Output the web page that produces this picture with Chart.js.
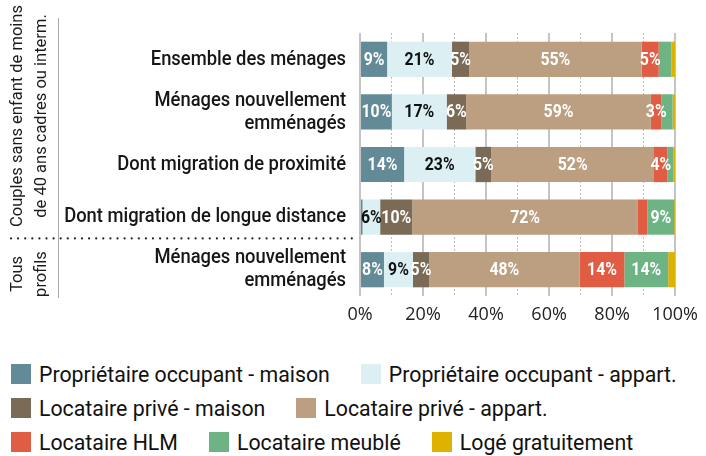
<!DOCTYPE html>
<html lang="fr">
<head>
<meta charset="utf-8">
<script src="https://cdn.jsdelivr.net/npm/chart.js@4.4.1/dist/chart.umd.min.js"></script>
<style>
  html, body { margin: 0; padding: 0; background: #fff; }
  #wrap { position: relative; width: 706px; height: 456px; overflow: hidden; }
  #chart { position: absolute; left: 0; top: 0; }
  #legend { position: absolute; left: 11px; top: 357px; font-family: Roboto, sans-serif; font-size: 21.3px; color: #111; }
  .row { display: flex; align-items: center; height: 34px; white-space: nowrap; }
  .item { display: flex; align-items: center; margin-right: 31px; }
  .sw { width: 20px; height: 20px; margin-right: 8px; flex: none; }
</style>
</head>
<body>
<div id="wrap">
  <canvas id="chart" width="706" height="340"></canvas>
  <div id="legend"></div>
</div>
<script>
// --- Données ---
const categories = [
    'Ensemble des ménages',
    ['Ménages nouvellement', 'emménagés'],
    'Dont migration de proximité',
    'Dont migration de longue distance',
    ['Ménages nouvellement', 'emménagés']
];

const seriesNames = [
    'Propriétaire occupant - maison',
    'Propriétaire occupant - appart.',
    'Locataire privé - maison',
    'Locataire privé - appart.',
    'Locataire HLM',
    'Locataire meublé',
    'Logé gratuitement'
];

const propMaison     = [8.6, 10.1, 14.0, 0.8, 7.6];
const propAppart     = [20.6, 17.4, 22.6, 5.6, 9.2];
const locPriveMaison = [5.4, 6.2, 5.1, 10.2, 5.1];
const locPriveAppart = [54.8, 58.6, 51.6, 71.6, 47.8];
const locHLM         = [5.4, 3.4, 4.3, 3.0, 14.2];
const locMeuble      = [4.0, 3.5, 1.9, 8.5, 13.9];
const logeGratuit    = [1.2, 0.8, 0.5, 0.3, 2.2];

// segments sans étiquette (index de série -> lignes)
const hiddenLabels = { 0: [3], 4: [3], 5: [0, 1, 2], 6: [0, 1, 2, 3, 4] };

const xTicks = [0, 20, 40, 60, 80, 100];
const groupLabels = [
    { lines: ['Couples sans enfant de moins', 'de 40 ans cadres ou interm.'], y: 116 },
    { lines: ['Tous', 'profils'], y: 274 }
];
const legendRows = [[0, 1], [2, 3], [4, 5, 6]];

const colors = ['#638b97', '#dcf0f3', '#7a6a56', '#bc9f80', '#e05d44', '#6db384', '#e0b200'];
const allSeries = [propMaison, propAppart, locPriveMaison, locPriveAppart, locHLM, locMeuble, logeGratuit];

// texte « condensé » : police Roboto resserrée horizontalement
function narrowText(ctx, text, x, y, squeeze) {
    ctx.save();
    ctx.translate(x, y);
    ctx.scale(squeeze, 1);
    ctx.fillText(text, 0, 0);
    ctx.restore();
}

// --- Plugin : étiquettes dans les barres ---
const barLabels = {
    id: 'barLabels',
    afterDatasetsDraw(chart) {
        const ctx = chart.ctx;
        ctx.save();
        ctx.font = 'bold 18px Roboto';
        ctx.textAlign = 'center';
        ctx.textBaseline = 'middle';
        chart.data.datasets.forEach((ds, i) => {
            const meta = chart.getDatasetMeta(i);
            meta.data.forEach((bar, j) => {
                if ((hiddenLabels[i] || []).includes(j)) return;
                ctx.fillStyle = i === 1 ? '#111' : '#fff';
                narrowText(ctx, Math.round(ds.data[j]) + '%', (bar.x + bar.base) / 2, bar.y + 1, 0.88);
            });
        });
        ctx.restore();
    }
};

// --- Plugin : libellés des catégories, des groupes, trait vertical, séparateur ---
const groups = {
    id: 'groups',
    afterDraw(chart) {
        const ctx = chart.ctx;
        const yScale = chart.scales.y;
        ctx.save();
        // libellés des catégories (alignés à droite)
        ctx.fillStyle = '#161616';
        ctx.font = '500 21px Roboto';
        ctx.textAlign = 'right';
        ctx.textBaseline = 'middle';
        categories.forEach((cat, j) => {
            const lines = Array.isArray(cat) ? cat : [cat];
            const yc = yScale.getPixelForValue(j);
            lines.forEach((line, k) => {
                const y = yc + (k - (lines.length - 1) / 2) * 23;
                narrowText(ctx, line, 346, y, 0.875);
            });
        });
        // trait vertical
        ctx.strokeStyle = '#a8a8a8';
        ctx.lineWidth = 1;
        ctx.beginPath();
        ctx.moveTo(58.5, 18);
        ctx.lineTo(58.5, 298);
        ctx.stroke();
        // séparateur pointillé entre les deux groupes
        const sepY = (yScale.getPixelForValue(3) + yScale.getPixelForValue(4)) / 2 - 5;
        ctx.fillStyle = '#222';
        for (let x = 11; x <= 352; x += 7.1) {
            ctx.beginPath();
            ctx.arc(x, sepY, 1.1, 0, Math.PI * 2);
            ctx.fill();
        }
        // libellés verticaux
        ctx.fillStyle = '#1a1a1a';
        ctx.font = '16.5px Roboto';
        ctx.textAlign = 'center';
        groupLabels.forEach(g => {
            g.lines.forEach((line, k) => {
                ctx.save();
                ctx.translate(18 + k * 24, g.y);
                ctx.rotate(-Math.PI / 2);
                ctx.fillText(line, 0, 0);
                ctx.restore();
            });
        });
        ctx.restore();
    }
};

const chart = new Chart(document.getElementById('chart'), {
    type: 'bar',
    data: {
        labels: categories,
        datasets: allSeries.map((data, i) => ({
            label: seriesNames[i],
            data: data,
            backgroundColor: colors[i],
            borderWidth: 0,
            barPercentage: 0.67,
            categoryPercentage: 1,
            xAxisID: 'x',
            yAxisID: 'y'
        }))
    },
    options: {
        indexAxis: 'y',
        responsive: false,
        animation: false,
        layout: { padding: { top: 33, right: 30, left: 0, bottom: 0 } },
        plugins: { legend: { display: false }, tooltip: { enabled: false } },
        scales: {
            y: {
                stacked: true,
                grid: { display: false, drawTicks: false },
                border: { display: false },
                ticks: { display: false },
                afterFit: s => { s.width = 360; }
            },
            x: {
                stacked: true,
                min: 0, max: 100,
                afterBuildTicks: s => { s.ticks = xTicks.map(v => ({ value: v })); },
                ticks: {
                    padding: 8, color: '#222',
                    font: { family: 'Open Sans', size: 18 },
                    callback: v => v + '%'
                },
                grid: { color: '#c4c4c4', lineWidth: 2, drawTicks: false },
                border: { display: false },
                afterFit: s => { s.height = 44; }
            },
            x2: {
                type: 'linear',
                position: 'bottom',
                min: 0, max: 100,
                ticks: { display: false, stepSize: 10 },
                grid: {
                    drawTicks: false, lineWidth: 1,
                    color: c => (c.tick && c.tick.value % 20 === 0) ? 'rgba(0,0,0,0)' : '#bdbdbd'
                },
                border: { display: false, dash: [2, 2] },
                afterFit: s => { s.height = 0; }
            }
        }
    },
    plugins: [barLabels, groups]
});

// --- Légende HTML ---
const legend = document.getElementById('legend');
legendRows.forEach(row => {
    const r = document.createElement('div');
    r.className = 'row';
    row.forEach(i => {
        const it = document.createElement('div');
        it.className = 'item';
        it.innerHTML = `<span class="sw" style="background:${colors[i]}"></span><span>${seriesNames[i]}</span>`;
        r.appendChild(it);
    });
    legend.appendChild(r);
});
</script>
</body>
</html>
